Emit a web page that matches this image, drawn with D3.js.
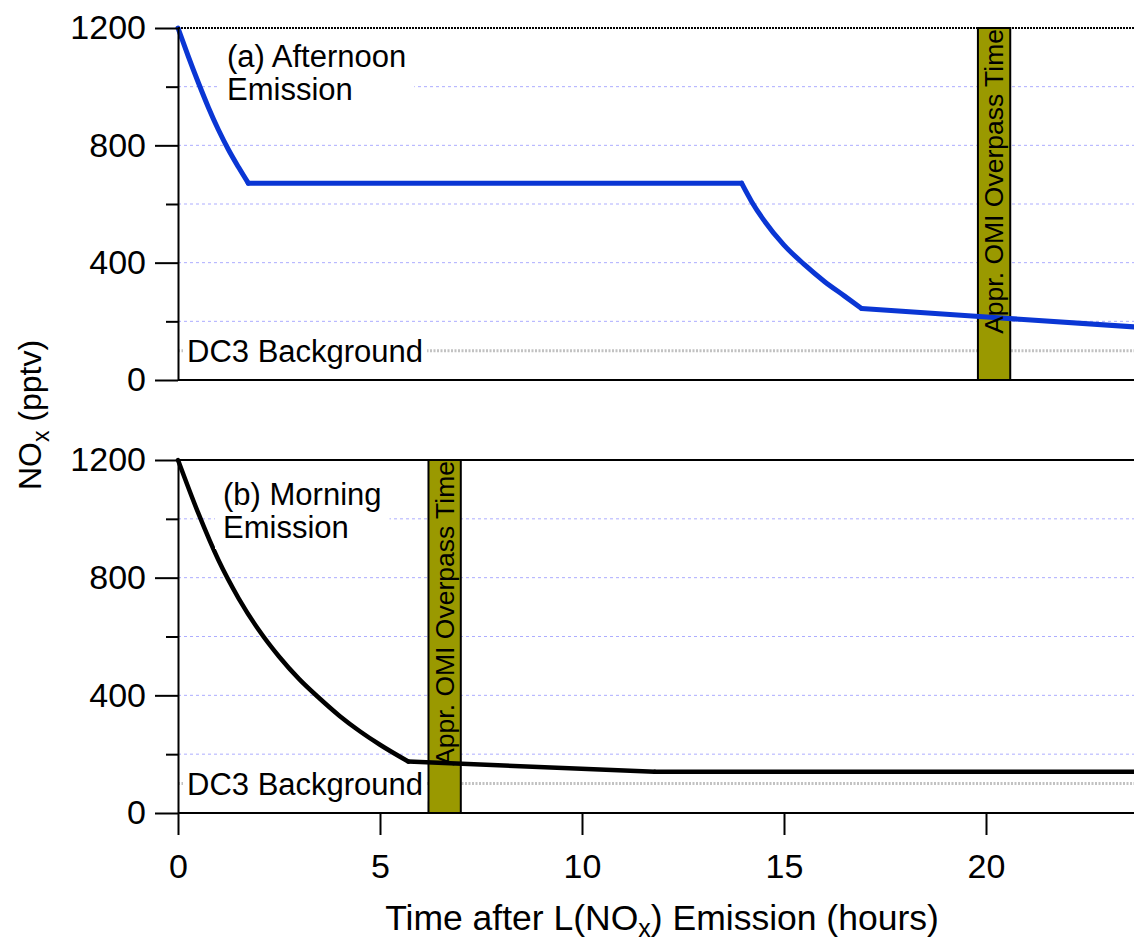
<!DOCTYPE html>
<html>
<head>
<meta charset="utf-8">
<script src="https://cdn.jsdelivr.net/npm/d3@7"></script>
<style>
  body { margin: 0; background: #fff; overflow: hidden; }
  svg text { font-family: "Liberation Sans", Arial, sans-serif; fill: #000; }
</style>
</head>
<body>
<div id="chart"></div>
<script>
// data (hours after emission, NOx in pptv)
const hoursAfternoon = [0, 0.25, 0.5, 0.75, 1.0, 1.25, 1.5, 1.74, 13.95, 14.2, 14.5, 15.0, 15.5, 16.0, 16.5, 16.92, 20.2, 24];
const noxAfternoon = [1200, 1105, 1015, 930, 853, 785, 725, 671, 671, 608, 545, 460, 394, 336, 286, 244, 213, 178];
const kneesAfternoon = [1.74, 13.95, 16.92];

const hoursMorning = [0, 0.5, 1.0, 1.5, 2.0, 2.5, 3.0, 3.5, 4.0, 4.5, 5.0, 5.7, 11.8, 24];
const noxMorning = [1200, 1020, 860, 730, 622, 532, 455, 390, 330, 278, 232, 175, 140, 140];
const kneesMorning = [5.7, 11.8];

const overpassAfternoon = [19.8, 20.6];
const overpassMorning = [6.2, 7.0];
const dc3Background = 100;

const xTicks = [0, 5, 10, 15, 20];
const yMajorTicks = [0, 400, 800, 1200];
const yMinorTicks = [200, 600, 1000];
const gridValues = [200, 400, 600, 800, 1000];

const width = 1134, height = 941;
const left = 178;

const svg = d3
  .select("#chart")
  .append("svg")
  .attr("width", width)
  .attr("height", height);

// x scale shared by both panels
const x = d3.scaleLinear().domain([0, 24]).range([left, left + 24 * 40.4]);

// split a series at its knees so each smooth piece keeps sharp corners
function pieces(hours, nox, knees) {
  const pts = d3.zip(hours, nox);
  const out = [];
  let cur = [];
  pts.forEach((p) => {
    cur.push(p);
    if (knees.includes(p[0])) {
      out.push(cur);
      cur = [p];
    }
  });
  out.push(cur);
  return out;
}

function drawPanel(cfg) {
  const y = d3.scaleLinear().domain([0, 1200]).range([cfg.bottom, cfg.top]);
  const g = svg.append("g");
  const right = width;

  // dashed blue-ish gridlines
  g.selectAll(".grid")
    .data(gridValues)
    .join("line")
    .attr("x1", left)
    .attr("x2", right)
    .attr("y1", (d) => y(d))
    .attr("y2", (d) => y(d))
    .attr("stroke", "#adadff")
    .attr("stroke-width", 1)
    .attr("stroke-dasharray", "3,3");

  // DC3 background line
  g.append("line")
    .attr("x1", left)
    .attr("x2", right)
    .attr("y1", y(dc3Background))
    .attr("y2", y(dc3Background))
    .attr("stroke", "#c2c2c2")
    .attr("stroke-width", 3)
    .attr("stroke-dasharray", "2,1.5");

  // overpass band
  g.append("rect")
    .attr("x", x(cfg.band[0]))
    .attr("y", y(1200))
    .attr("width", x(cfg.band[1]) - x(cfg.band[0]))
    .attr("height", y(0) - y(1200))
    .attr("fill", "#9a9900")
    .attr("stroke", "#000")
    .attr("stroke-width", 2);

  // model line
  const line = d3
    .line()
    .curve(d3.curveMonotoneX)
    .x((d) => x(d[0]))
    .y((d) => y(d[1]));
  g.selectAll(".seg")
    .data(pieces(cfg.hours, cfg.nox, cfg.knees))
    .join("path")
    .attr("fill", "none")
    .attr("stroke", cfg.color)
    .attr("stroke-width", cfg.lineWidth)
    .attr("stroke-linecap", "round")
    .attr("d", line);

  // band label (rotated, reads upward)
  const bandMid = (x(cfg.band[0]) + x(cfg.band[1])) / 2;
  g.append("text")
    .attr("transform", `translate(${bandMid + 9},${y(1200) + 1}) rotate(-90)`)
    .attr("text-anchor", "end")
    .style("font-size", "26.5px")
    .text("Appr. OMI Overpass Time");

  // DC3 background label with white box
  const dc3 = g.append("g");
  const dc3Box = dc3.append("rect").attr("fill", "#fff");
  const dc3Text = dc3
    .append("text")
    .attr("x", left + 9)
    .attr("y", y(dc3Background) + 11)
    .style("font-size", "31px")
    .text("DC3 Background");
  const b1 = dc3Text.node().getBBox();
  dc3Box
    .attr("x", b1.x - 4)
    .attr("y", b1.y)
    .attr("width", b1.width + 8)
    .attr("height", b1.height);

  // panel title, two lines
  const pl = g.append("g");
  const plBox = pl.append("rect").attr("fill", "#fff");
  const plText = pl
    .append("text")
    .attr("x", cfg.labelX)
    .attr("y", cfg.labelY)
    .style("font-size", "31px");
  plText.append("tspan").attr("x", cfg.labelX).text(cfg.label[0]);
  plText.append("tspan").attr("x", cfg.labelX).attr("dy", 33).text(cfg.label[1]);
  const b2 = plText.node().getBBox();
  plBox
    .attr("x", b2.x - 8)
    .attr("y", b2.y - 4)
    .attr("width", b2.width + 16)
    .attr("height", b2.height + 8);

  // top frame line at 1200
  g.append("line")
    .attr("x1", left)
    .attr("x2", right)
    .attr("y1", y(1200))
    .attr("y2", y(1200))
    .attr("stroke", "#000")
    .attr("stroke-width", 2)
    .attr("stroke-dasharray", cfg.topDash);

  // bottom frame line at 0
  g.append("line")
    .attr("x1", left)
    .attr("x2", right)
    .attr("y1", y(0))
    .attr("y2", y(0))
    .attr("stroke", "#000")
    .attr("stroke-width", 2);

  // y axis, major + minor ticks
  const yAxis = g
    .append("g")
    .attr("transform", `translate(${left},0)`)
    .call(
      d3
        .axisLeft(y)
        .tickValues(yMajorTicks)
        .tickFormat(d3.format("d"))
        .tickSize(23)
        .tickSizeOuter(0)
        .tickPadding(9)
    );
  yAxis.selectAll("text").style("font-size", "34px");
  yAxis.selectAll("line, path").attr("stroke-width", 2);

  const yMinor = g
    .append("g")
    .attr("transform", `translate(${left},0)`)
    .call(d3.axisLeft(y).tickValues(yMinorTicks).tickSize(12).tickFormat(""));
  yMinor.select(".domain").remove();
  yMinor.selectAll("line").attr("stroke-width", 2);

  return y;
}

// (a) afternoon panel
drawPanel({
  top: 28,
  bottom: 380,
  hours: hoursAfternoon,
  nox: noxAfternoon,
  knees: kneesAfternoon,
  band: overpassAfternoon,
  color: "#0a36d4",
  lineWidth: 5,
  label: ["(a) Afternoon", "Emission"],
  labelX: 227,
  labelY: 67,
  topDash: "2,1",
});

// (b) morning panel
const yB = drawPanel({
  top: 460,
  bottom: 813,
  hours: hoursMorning,
  nox: noxMorning,
  knees: kneesMorning,
  band: overpassMorning,
  color: "#000",
  lineWidth: 4.5,
  label: ["(b) Morning", "Emission"],
  labelX: 223,
  labelY: 505,
  topDash: null,
});

// x axis under the bottom panel only
const xAxis = svg
  .append("g")
  .attr("transform", `translate(0,${yB(0)})`)
  .call(d3.axisBottom(x).tickValues(xTicks).tickSize(22).tickSizeOuter(0).tickPadding(19));
xAxis.select(".domain").remove();
xAxis.selectAll("line").attr("stroke-width", 2);
xAxis.selectAll("text").style("font-size", "34px");

// axis titles
const xTitle = svg
  .append("text")
  .attr("x", 662)
  .attr("y", 930)
  .attr("text-anchor", "middle")
  .style("font-size", "35.5px");
xTitle.append("tspan").text("Time after L(NO");
xTitle.append("tspan").attr("dy", 7).style("font-size", "25px").text("x");
xTitle.append("tspan").attr("dy", -7).text(") Emission (hours)");

const yTitle = svg
  .append("text")
  .attr("transform", "translate(41,415) rotate(-90)")
  .attr("text-anchor", "middle")
  .style("font-size", "32px");
yTitle.append("tspan").text("NO");
yTitle.append("tspan").attr("dy", 8).style("font-size", "23px").text("x");
yTitle.append("tspan").attr("dy", -8).text(" (pptv)");
</script>
</body>
</html>
